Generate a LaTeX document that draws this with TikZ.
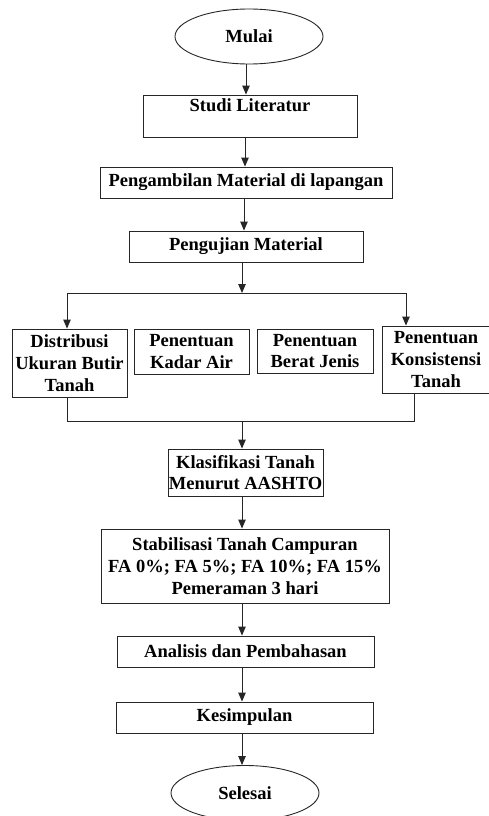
\documentclass[tikz,border=0pt]{standalone}
\usepackage{fontspec}
\setmainfont{Liberation Serif}
\usepackage{tikz}
\usetikzlibrary{shapes.geometric, arrows.meta, positioning, calc}

\begin{document}
\begin{tikzpicture}[
    x=1pt, y=-1pt,
    box/.style={
        rectangle,
        draw=black!85,
        line width=0.9pt,
        inner sep=0pt,
        align=center,
        font=\fontsize{18.5}{21.7}\selectfont\bfseries
    },
    terminal/.style={
        box,
        ellipse,
        minimum width=148pt,
        minimum height=55pt
    },
    arrow/.style={
        -{Triangle[length=9pt, width=7.5pt]},
        line width=0.9pt,
        draw=black!85
    },
    line/.style={
        line width=0.9pt,
        draw=black!85
    }
]
    \useasboundingbox (0,0) rectangle (489,816);

    % --- MAIN TRACK (TOP) ---
    \node[terminal] (mulai) at (249, 36.5) {Mulai};
    \node[box, minimum width=214pt, minimum height=42pt] (studi) at (250, 116) {Studi Literatur\\~};
    \node[box, minimum width=292pt, minimum height=31pt] (ambil) at (246, 182.5) {Pengambilan Material di lapangan};
    \node[box, minimum width=234pt, minimum height=31pt] (uji) at (246, 246.5) {Pengujian Material};

    \draw[arrow] (mulai.south -| 246,0) -- (studi.north -| 246,0);
    \draw[arrow] (studi.south -| 245,0) -- (ambil.north -| 245,0);
    \draw[arrow] (ambil.south -| 244,0) -- (uji.north -| 244,0);

    % --- TESTS ROW (Y = 360) ---
    \node[box, minimum width=115pt, minimum height=68pt] (distribusi) at (69.5, 363) {Distribusi\\Ukuran Butir\\Tanah};
    \node[box, minimum width=115pt, minimum height=45pt] (kadar) at (191.5, 351.5) {Penentuan\\Kadar Air};
    \node[box, minimum width=116pt, minimum height=44pt] (berat) at (315, 351) {Penentuan\\Berat Jenis};
    \node[box, minimum width=108pt, minimum height=67pt] (konsistensi) at (436, 359.5) {Penentuan\\Konsistensi\\Tanah};

    % split above the row
    \coordinate (split) at (242, 293);
    \coordinate (splitL) at (67, 293);
    \coordinate (splitR) at (406, 293);
    \draw[arrow] (uji.south -| split) -- (split);
    \draw[line] (splitL) -- (splitR);
    \draw[arrow] (splitL) -- (splitL |- distribusi.north);
    \draw[arrow] (splitR) -- (splitR |- konsistensi.north);

    % merge below the row
    \coordinate (merge) at (242, 421);
    \coordinate (mergeL) at (67, 421);
    \coordinate (mergeR) at (414, 421);
    \draw[line] (mergeL |- distribusi.south) -- (mergeL) -- (mergeR) -- (mergeR |- konsistensi.south);

    % --- MAIN TRACK (BOTTOM) ---
    \node[box, minimum width=155pt, minimum height=47pt] (klasifikasi) at (245.5, 472.5) {Klasifikasi Tanah\\Menurut AASHTO};
    \node[box, minimum width=288pt, minimum height=74pt] (stabilisasi) at (245, 566) {Stabilisasi Tanah Campuran\\FA 0\%; FA 5\%; FA 10\%; FA 15\%\\Pemeraman 3 hari};
    \node[box, minimum width=257pt, minimum height=31pt] (analisis) at (245.5, 651.5) {Analisis dan Pembahasan};
    \node[box, minimum width=257pt, minimum height=31pt] (kesimpulan) at (244.5, 717.5) {Kesimpulan};
    \node[terminal] (selesai) at (245, 793) {Selesai};

    \draw[arrow] (merge) -- (merge |- klasifikasi.north);
    \draw[arrow] (klasifikasi.south -| merge) -- (stabilisasi.north -| merge);
    \draw[arrow] (stabilisasi.south -| merge) -- (analisis.north -| merge);
    \draw[arrow] (analisis.south -| merge) -- (kesimpulan.north -| merge);
    \draw[arrow] (kesimpulan.south -| merge) -- (selesai.north -| merge);

\end{tikzpicture}
\end{document}
